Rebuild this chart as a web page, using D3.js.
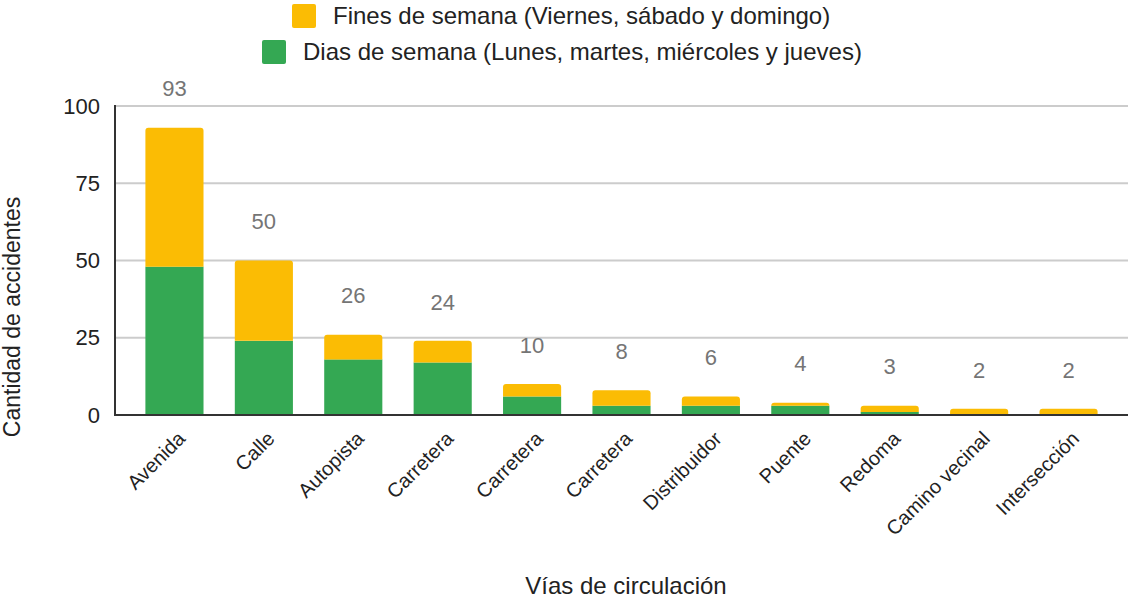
<!DOCTYPE html>
<html><head><meta charset="utf-8">
<script src="https://cdn.jsdelivr.net/npm/d3@7"></script>
<style>body{margin:0;background:#fff;} svg{display:block;font-family:"Liberation Sans",Arial,sans-serif;}</style>
</head><body><svg id="c" width="1129" height="601"></svg>
<script>
const categories = ["Avenida","Calle","Autopista","Carretera","Carretera","Carretera","Distribuidor","Puente","Redoma","Camino vecinal","Intersección"];
const weekdays = [48,24,18,17,6,3,3,3,1,0,0];
const weekends = [45,26,8,7,4,5,3,1,2,2,2];
const totals = [93,50,26,24,10,8,6,4,3,2,2];
const yTicks = [0,25,50,75,100];
const seriesNames = ["Fines de semana (Viernes, sábado y domingo)","Dias de semana (Lunes, martes, miércoles y jueves)"];
const colors = {weekend:"#FBBC04", weekday:"#34A853"};

const svg = d3.select("#c");
const m = {left:115, right:1128, top:106, bottom:415};
const x = d3.scaleBand().domain(d3.range(categories.length)).range([m.left, m.right]).paddingInner(0.35).paddingOuter(0.34);
const y = d3.scaleLinear().domain([0,100]).range([m.bottom, m.top]);

// grid
svg.append("g").selectAll("line").data(yTicks.filter(d=>d>0)).join("line")
  .attr("x1", m.left).attr("x2", m.right).attr("y1", d=>y(d)).attr("y2", d=>y(d))
  .attr("stroke","#cccccc").attr("stroke-width",2);

// y tick labels
svg.append("g").selectAll("text").data(yTicks).join("text")
  .attr("x", 100).attr("y", d=>y(d)).attr("dy","0.35em").attr("text-anchor","end")
  .attr("font-size",22).attr("fill","#222").text(d=>d);

function topRounded(x0, y0, w, h, r){
  r = Math.min(r, h, w/2);
  return `M${x0},${y0+h}V${y0+r}Q${x0},${y0} ${x0+r},${y0}H${x0+w-r}Q${x0+w},${y0} ${x0+w},${y0+r}V${y0+h}Z`;
}
const bw = x.bandwidth();
const g = svg.append("g");
categories.forEach((c,i)=>{
  const x0 = x(i);
  if (weekdays[i] > 0) {
    g.append("rect").attr("x", x0).attr("width", bw)
      .attr("y", y(weekdays[i])).attr("height", y(0)-y(weekdays[i])).attr("fill", colors.weekday);
  }
  const yTop = y(weekdays[i]+weekends[i]);
  g.append("path").attr("d", topRounded(x0, yTop, bw, y(weekdays[i])-yTop, 3)).attr("fill", colors.weekend);
  svg.append("text").attr("x", x0+bw/2).attr("y", yTop-39).attr("dy","0.35em").attr("text-anchor","middle")
    .attr("font-size",22).attr("fill","#757575").text(totals[i]);
});

// axes lines
svg.append("line").attr("x1",m.left).attr("x2",m.left).attr("y1",m.top-1).attr("y2",m.bottom+1).attr("stroke","#333").attr("stroke-width",2);
svg.append("line").attr("x1",m.left-1).attr("x2",m.right).attr("y1",m.bottom).attr("y2",m.bottom).attr("stroke","#333").attr("stroke-width",2);

// x labels
svg.append("g").selectAll("text").data(categories).join("text")
  .attr("transform",(d,i)=>`translate(${x(i)+bw/2+7},${m.bottom+20}) rotate(-45)`)
  .attr("text-anchor","end").attr("dy","0.35em").attr("font-size",20).attr("fill","#222").text(d=>d);

// axis titles
svg.append("text").attr("x",626).attr("y",586).attr("dy","0.35em").attr("text-anchor","middle").attr("font-size",24).attr("fill","#222").text("Vías de circulación");
svg.append("text").attr("transform","translate(12,317) rotate(-90)").attr("dy","0.35em").attr("text-anchor","middle").attr("font-size",23).attr("fill","#222").text("Cantidad de accidentes");

// legend
const leg = [{name:seriesNames[0], color:colors.weekend, sx:292, tx:333, cy:16},
             {name:seriesNames[1], color:colors.weekday, sx:262, tx:303, cy:52}];
leg.forEach(l=>{
  svg.append("rect").attr("x",l.sx).attr("y",l.cy-12).attr("width",24).attr("height",24).attr("rx",2).attr("fill",l.color);
  svg.append("text").attr("x",l.tx).attr("y",l.cy).attr("dy","0.35em").attr("font-size",24).attr("fill","#222").text(l.name);
});
</script></body></html>
